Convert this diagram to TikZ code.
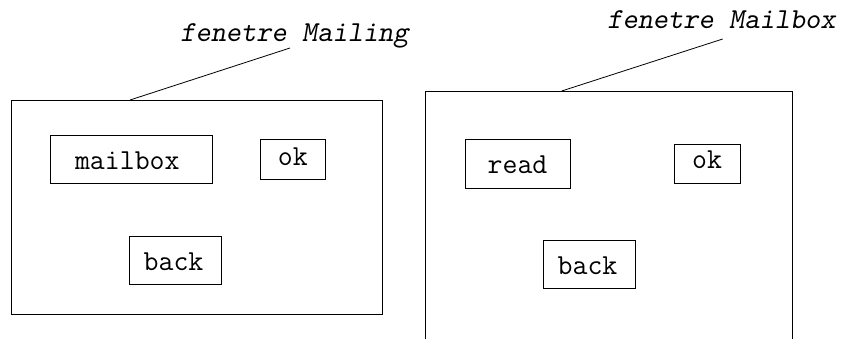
\documentclass[tikz,border=0pt]{standalone}
\usepackage{fontspec}
\begin{document}
\begin{tikzpicture}[x=1pt,y=-1pt,
  every node/.style={inner sep=0pt},
  btnfont/.style={font=\fontsize{29}{33}\selectfont\ttfamily},
  win/.style={draw, line width=0.8pt},
  btn/.style={draw, line width=0.8pt},
  caption/.style={btnfont, anchor=base, yshift=14pt},
  title/.style={font=\fontsize{29}{33}\selectfont\ttfamily\slshape, anchor=base},
  leader/.style={line width=0.8pt}]
\useasboundingbox (0,0) rectangle (843,339);
% left window
\node[win, minimum width=370.3pt, minimum height=214pt] (w1) at (196.9,207) {};
\node[btn, minimum width=161.3pt, minimum height=48pt,
  label={[caption, xshift=-4pt]south:mailbox}] (mailbox) at (131.3,159) {};
\node[btn, minimum width=65.7pt, minimum height=40pt,
  label={[caption]south:ok}] (ok1) at (292.8,159) {};
\node[btn, minimum width=92pt, minimum height=48pt,
  label={[caption, xshift=-1.5pt]south:back}] (back1) at (175,260) {};
\node[title] (t1) at (294.5,42) {fenetre Mailing};
\coordinate (a1) at (130,100);
\coordinate (b1) at (290,48);
\draw[leader] (a1) -- (b1);
% right window (open at the bottom)
\coordinate (w2bl) at (425.7,345);
\coordinate (w2tl) at (425.7,91);
\coordinate (w2tr) at (792.3,91);
\coordinate (w2br) at (792.3,345);
\draw[win] (w2bl) -- (w2tl) -- (w2tr) -- (w2br);
\node[btn, minimum width=105pt, minimum height=49pt,
  label={[caption, yshift=1pt]south:read}] (read) at (517.5,163.5) {};
\node[btn, minimum width=66pt, minimum height=39pt,
  label={[caption, yshift=1pt]south:ok}] (ok2) at (707,163.5) {};
\node[btn, minimum width=92pt, minimum height=48pt,
  label={[caption, xshift=-1.5pt]south:back}] (back2) at (589,264) {};
\node[title] (t2) at (721.5,29) {fenetre Mailbox};
\coordinate (a2) at (561.7,91);
\coordinate (b2) at (722.7,39);
\draw[leader] (a2) -- (b2);
\end{tikzpicture}
\end{document}
